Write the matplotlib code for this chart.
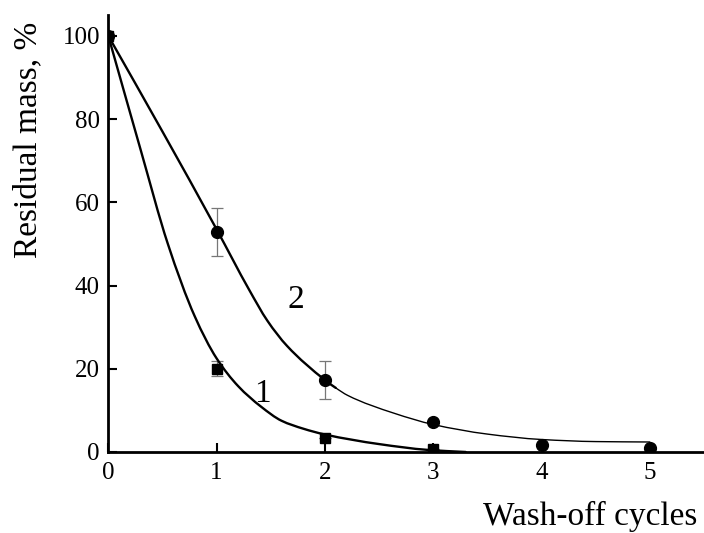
import matplotlib.pyplot as plt
from matplotlib.path import Path
from matplotlib.patches import PathPatch

plt.rcParams['font.family'] = ['Liberation Serif', 'DejaVu Serif']

# Measured residual mass after each wash-off cycle
cycles_1 = [0, 1, 2, 3]
mass_1 = [100, 20, 3.3, 0.8]
err_1 = [0, 1.8, 0, 0]

cycles_2 = [0, 1, 2, 3, 4, 5]
mass_2 = [100, 52.8, 17.3, 7.3, 1.7, 1.0]
err_2 = [0, 5.8, 4.5, 0, 0, 0]

# Fitted curves
fit1_x = [0, 0.3, 0.55, 0.8, 1.0, 1.2, 1.41, 1.6, 1.8, 2.0, 2.5, 2.95, 3.3]
fit1_y = [100, 72.5, 50, 32.5, 22.5, 15.8, 10.9, 7.5, 5.6, 4.2, 1.9, 0.5, 0]

fit2_x = [0, 0.5, 1.0, 1.3, 1.47, 1.65, 2.0, 2.1, 2.21, 2.64, 3.0, 3.5, 4.0, 4.5, 5.0]
fit2_y = [100, 77, 53.5, 39, 31.5, 25.5, 17.3, 15.4, 13.6, 9.3, 6.6, 4.3, 3.0, 2.5, 2.4]
thick_until = 7  # curve 2 is drawn heavy up to fit2_x[7]


def hermite_path(xs, ys, start=0, stop=None):
    # monotone cubic through the points (Fritsch-Carlson slopes) as Bezier segments
    n = len(xs)
    h = [xs[k + 1] - xs[k] for k in range(n - 1)]
    d = [(ys[k + 1] - ys[k]) / h[k] for k in range(n - 1)]
    m = [d[0]] + [0.0] * (n - 2) + [d[-1]]
    for k in range(1, n - 1):
        if d[k - 1] * d[k] > 0:
            w1 = 2 * h[k] + h[k - 1]
            w2 = h[k] + 2 * h[k - 1]
            m[k] = (w1 + w2) / (w1 / d[k - 1] + w2 / d[k])
    stop = n - 1 if stop is None else stop
    verts = [(xs[start], ys[start])]
    codes = [Path.MOVETO]
    for k in range(start, stop):
        verts += [(xs[k] + h[k] / 3, ys[k] + m[k] * h[k] / 3),
                  (xs[k + 1] - h[k] / 3, ys[k + 1] - m[k + 1] * h[k] / 3),
                  (xs[k + 1], ys[k + 1])]
        codes += [Path.CURVE4] * 3
    return Path(verts, codes)


fig = plt.figure(figsize=(7.04, 5.33), dpi=100)
ax = fig.add_axes([0.1538, 0.152, 0.8462, 0.8199])

curves = [(hermite_path(fit1_x, fit1_y), 1.7),
          (hermite_path(fit2_x, fit2_y, 0, thick_until), 1.7),
          (hermite_path(fit2_x, fit2_y, thick_until), 1.0)]
for path, lw in curves:
    ax.add_patch(PathPatch(path, fill=False, edgecolor='black', lw=lw,
                           capstyle='round', zorder=3))

ax.errorbar(cycles_1, mass_1, yerr=err_1, fmt='none', ecolor='#777777',
            elinewidth=0.9, capsize=4, capthick=0.9, zorder=2)
ax.errorbar(cycles_2, mass_2, yerr=err_2, fmt='none', ecolor='#777777',
            elinewidth=0.9, capsize=4, capthick=0.9, zorder=2)
ax.plot(cycles_1, mass_1, 's', color='black', ms=7, zorder=4)
ax.plot(cycles_2, mass_2, 'o', color='black', ms=8.5, zorder=4)

ax.text(1.42, 14.1, '1', fontsize=24, ha='center', va='center')
ax.text(1.73, 36.5, '2', fontsize=24, ha='center', va='center')

ax.set_xlim(0, 5.5)
ax.set_ylim(0, 105)
ax.set_xticks([0, 1, 2, 3, 4, 5])
ax.set_yticks([0, 20, 40, 60, 80, 100])

for side in ['top', 'right']:
    ax.spines[side].set_visible(False)
for side in ['left', 'bottom']:
    ax.spines[side].set_linewidth(2.0)
    ax.spines[side].set_zorder(5)

ax.tick_params(axis='both', direction='in', length=6.5, width=1.5,
               labelsize=18)
ax.tick_params(axis='x', pad=7)
ax.tick_params(axis='y', pad=6)

fig.text(28 / 704, 1 - 140 / 533, 'Residual mass, %', rotation=90,
         fontsize=24, ha='center', va='center')
fig.text(697 / 704, 8 / 533, 'Wash-off cycles', fontsize=24,
         ha='right', va='baseline')

fig.savefig('out.png', dpi=100)
